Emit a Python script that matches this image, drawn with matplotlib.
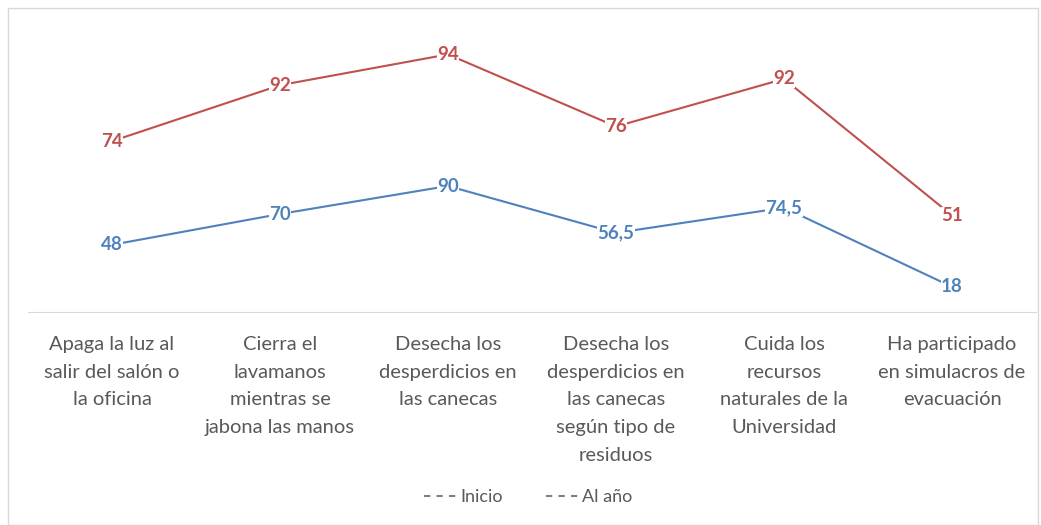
import numpy as np
from matplotlib import pyplot as plt
from matplotlib.lines import Line2D
from matplotlib.patches import Rectangle

categories = ["Apaga la luz al\nsalir del salón o\nla oficina",
              "Cierra el\nlavamanos\nmientras se\njabona las manos",
              "Desecha los\ndesperdicios en\nlas canecas",
              "Desecha los\ndesperdicios en\nlas canecas\nsegún tipo de\nresiduos",
              "Cuida los\nrecursos\nnaturales de la\nUniversidad",
              "Ha participado\nen simulacros de\nevacuación"]
inicio = [48, 70, 90, 56.5, 74.5, 18]
al_ano = [74, 92, 94, 76, 92, 51]
series_names = ["Inicio", "Al año"]
colors = ["#4F81BD", "#C0504D"]

plt.rcParams['font.family'] = ['Lato', 'DejaVu Sans']

fig = plt.figure(figsize=(10.41, 5.25), dpi=100)
ax = fig.add_axes([28 / 1041, 213 / 525, 1008 / 1041, 280 / 525])
fig.patches.append(Rectangle((8 / 1041, 0), 1030 / 1041, 517 / 525, transform=fig.transFigure,
                             fill=False, edgecolor="#D9D9D9", linewidth=1))

x = np.arange(len(categories))
# stacked line chart: second series sits on top of the first
stacked = [np.array(inicio), np.array(inicio) + np.array(al_ano)]
raw = [inicio, al_ano]

for ys, vals, color in zip(stacked, raw, colors):
    ax.plot(x, ys, color=color, linewidth=1.5, zorder=2)
    for xi, yi, v in zip(x, ys, vals):
        txt = ("%g" % v).replace(".", ",")
        ax.text(xi, yi, txt, color=color, fontsize=13.5, fontweight="bold",
                ha="center", va="center", zorder=3,
                bbox=dict(facecolor="white", edgecolor="none", pad=0.3))

ax.set_xlim(-0.5, len(categories) - 0.5)
ax.set_ylim(0, 200)
ax.set_xticks(x)
ax.set_xticklabels(categories, fontsize=14.5, color="#595959", linespacing=1.78)
ax.tick_params(axis="x", length=0, pad=17)
ax.set_yticks([])
for s in ["top", "left", "right"]:
    ax.spines[s].set_visible(False)
ax.spines["bottom"].set_color("#D9D9D9")

handles = [Line2D([0], [0], color="#808080", linestyle=(0, (3, 3)), linewidth=1.5) for c in colors]
fig.legend(handles, series_names, loc="center", bbox_to_anchor=(528 / 1041, 1 - 497 / 525),
           ncol=2, frameon=False, fontsize=13, labelcolor="#595959",
           handlelength=1.8, handletextpad=0.2, columnspacing=2.4)

fig.savefig("out.png", dpi=100)
